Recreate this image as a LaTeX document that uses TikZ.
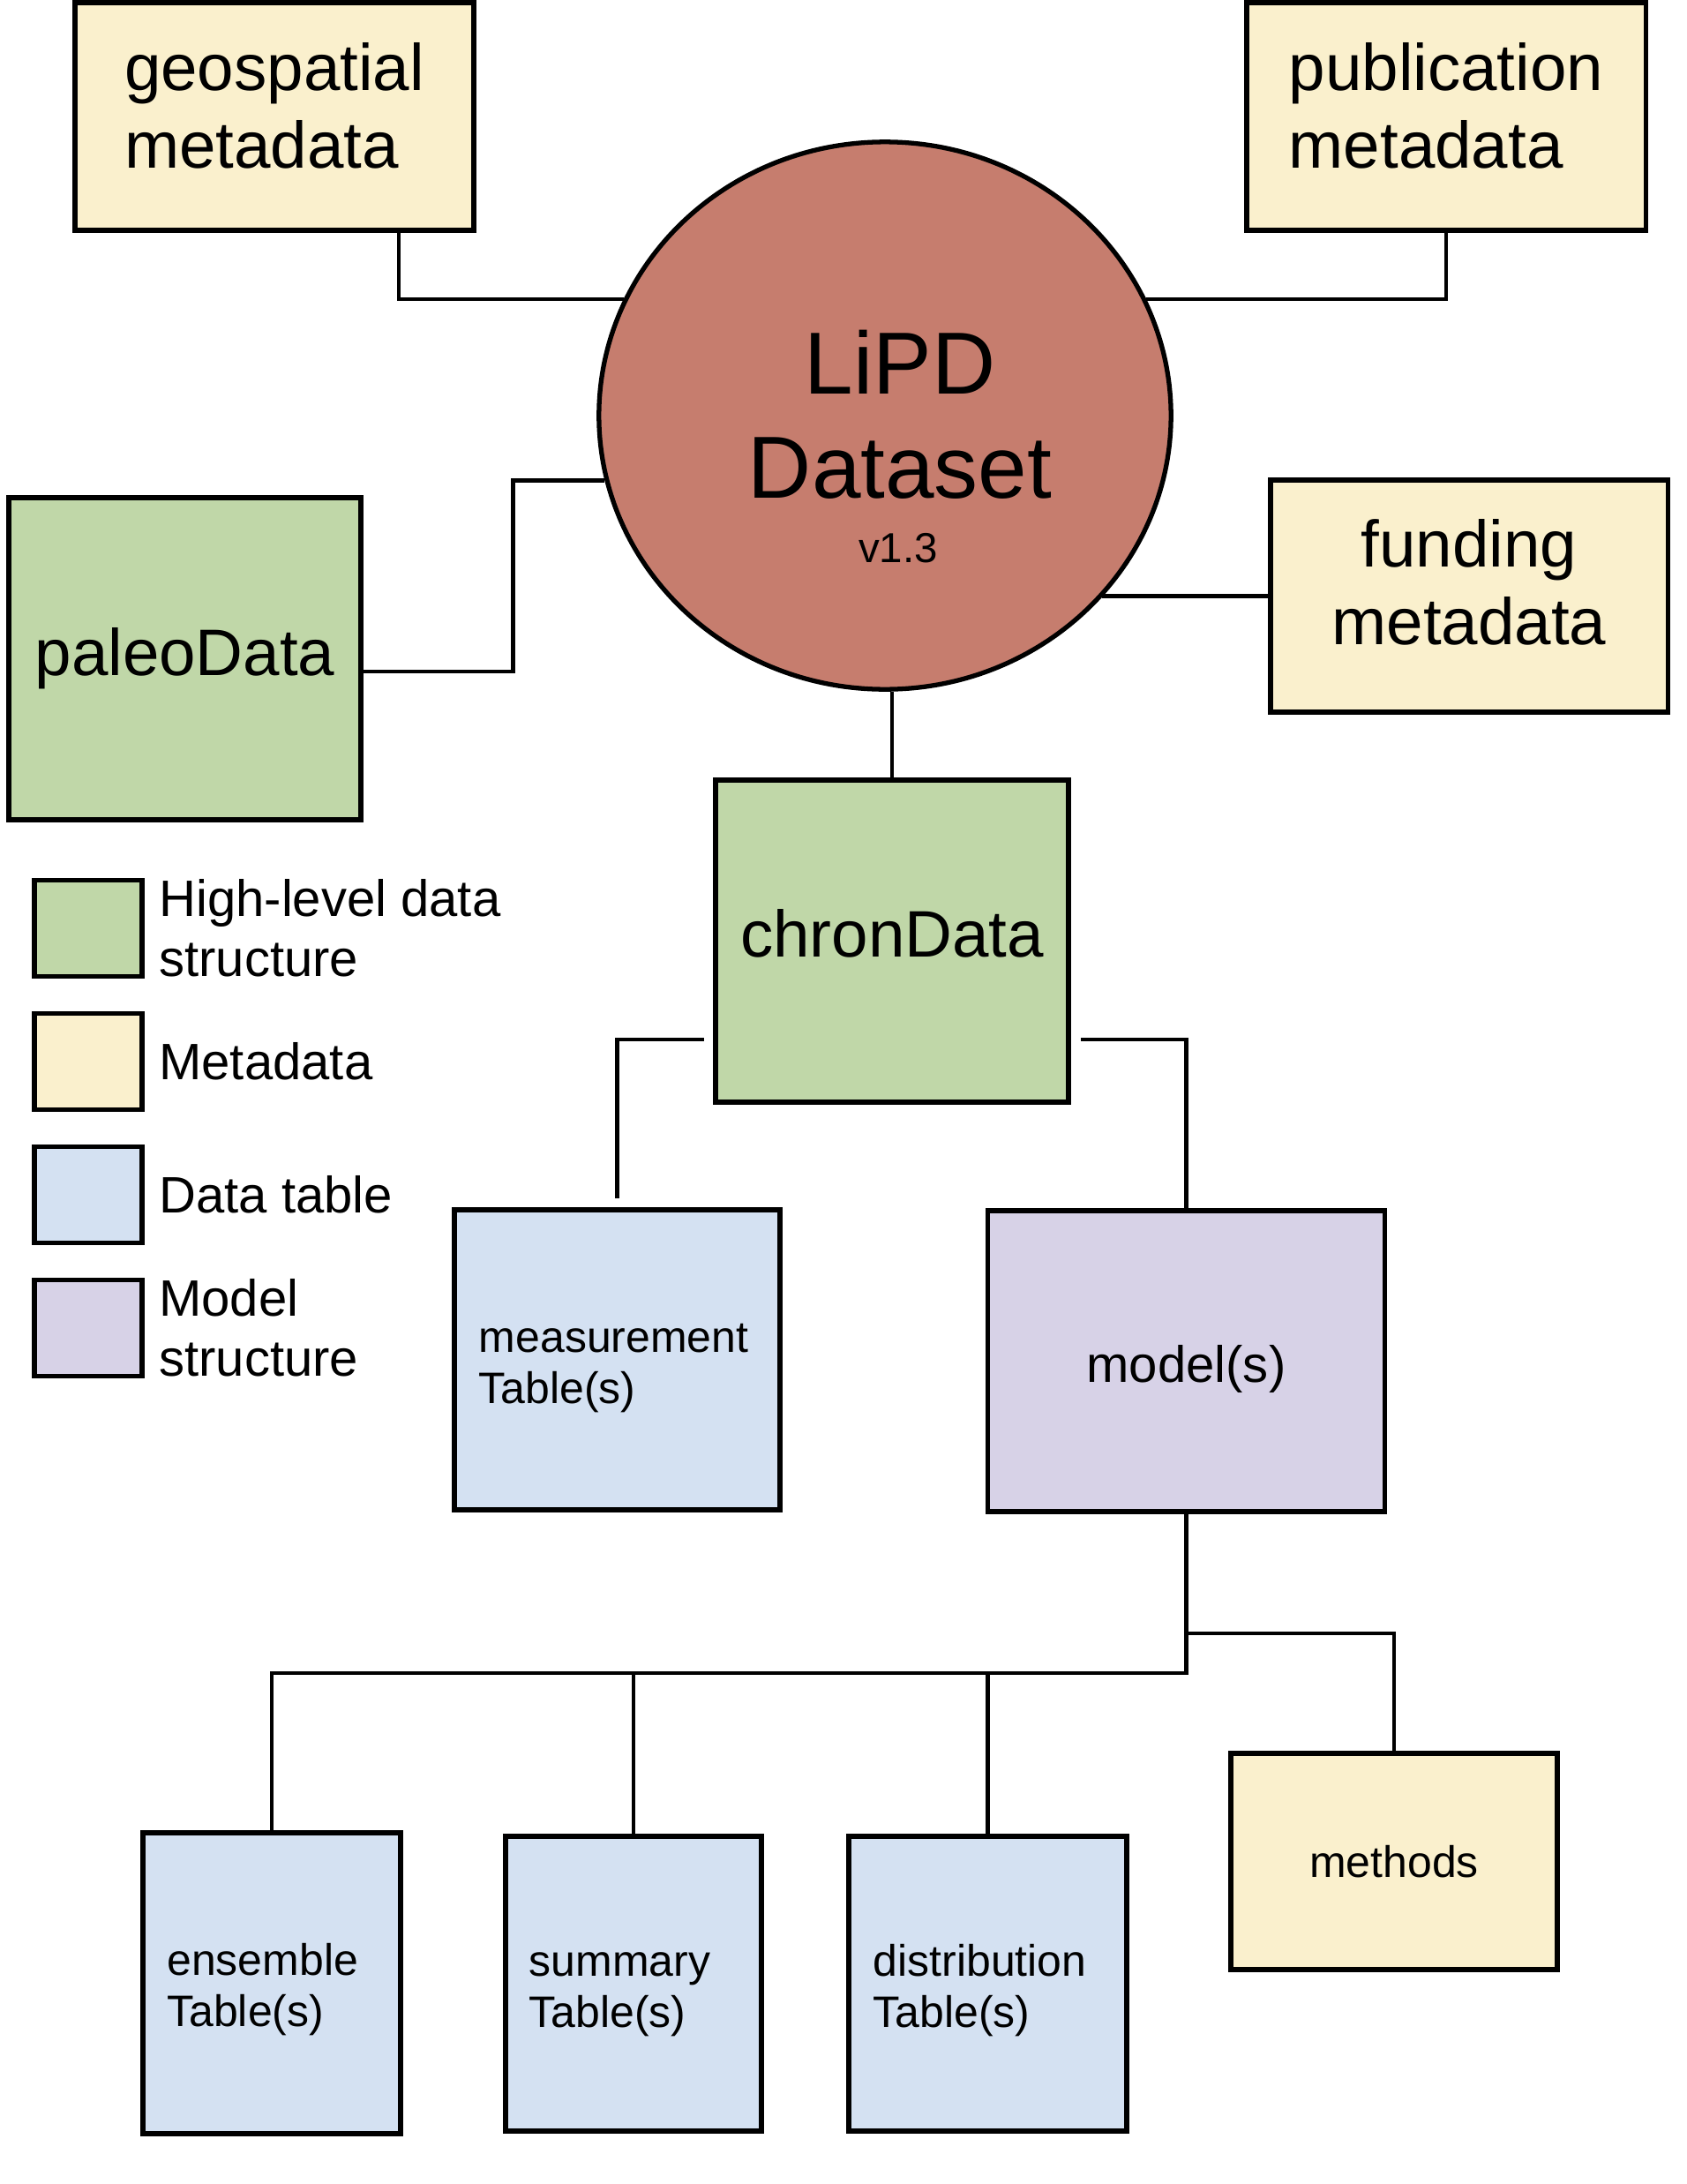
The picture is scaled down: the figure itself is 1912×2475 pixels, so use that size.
\documentclass[tikz,border=0pt]{standalone}
\usepackage{fontspec}
\setmainfont{Liberation Sans}
\usetikzlibrary{positioning,shapes.geometric}

\definecolor{hlgreen}{HTML}{C0D7A8}
\definecolor{metayellow}{HTML}{FAF0CD}
\definecolor{tableblue}{HTML}{D4E1F2}
\definecolor{modelpurple}{HTML}{D7D2E7}
\definecolor{lipdred}{HTML}{C67D6E}

\tikzset{
  plainbox/.style={draw, line width=1.5pt, inner sep=0pt},
  bigtext/.style={font=\fontsize{21.2}{25}\selectfont},
  midtext/.style={font=\fontsize{16.5}{19.3}\selectfont},
  smalltext/.style={font=\fontsize{14.2}{16.5}\selectfont},
  hilevel/.style={plainbox, fill=hlgreen},
  metabox/.style={plainbox, fill=metayellow},
  datatable/.style={plainbox, fill=tableblue, smalltext, align=left, text height=0.51cm},
  modelbox/.style={plainbox, fill=modelpurple},
  keybox/.style={minimum width=1.22cm, minimum height=1.09cm},
  keytext/.style={midtext, inner sep=0pt, align=left},
  link/.style={line width=1.35pt},
}

\begin{document}
\begin{tikzpicture}[x=0.01cm, y=-0.01cm]
  \useasboundingbox (0,0) rectangle (1912,2475);

  \node[ellipse, draw, line width=1.5pt, fill=lipdred, minimum width=6.48cm, minimum height=6.2cm, inner sep=0pt] (lipd) at (1003,471) {};
  \node[font=\fontsize{28.4}{33.6}\selectfont, align=center, inner sep=0pt] (lipdname) at (1020,470) {LiPD\\Dataset};
  \node[font=\fontsize{13.5}{16}\selectfont, anchor=base, inner sep=0pt] (lipdver) at (1018,637) {v1.3};

  \node[metabox, bigtext, align=left, text depth=0.25cm, minimum width=4.52cm, minimum height=2.58cm] (geo) at (311,132) {geospatial\\metadata};
  \node[metabox, bigtext, align=left, text depth=0.25cm, minimum width=4.52cm, minimum height=2.58cm] (pub) at (1639,132) {publication\\metadata};
  \node[metabox, bigtext, align=center, text depth=0.32cm, minimum width=4.5cm, minimum height=2.63cm] (fund) at (1665,675.5) {funding\\metadata};
  \node[hilevel, bigtext, minimum width=3.99cm, minimum height=3.65cm] (paleo) at (209.5,746.5) {paleoData};
  \node[hilevel, bigtext, text depth=0.19cm, minimum width=4cm, minimum height=3.65cm] (chron) at (1011,1066.5) {chronData};

  \node[datatable, text width=3.13cm, minimum width=3.69cm, minimum height=3.4cm] (meas) at (699.5,1541) {measurement\\Table(s)};
  \node[modelbox, midtext, text height=0.59cm, minimum width=4.5cm, minimum height=3.41cm] (model) at (1344.5,1542.5) {model(s)};

  \node[datatable, text width=2.37cm, minimum width=2.92cm, minimum height=3.41cm] (ens) at (308,2247.5) {ensemble\\Table(s)};
  \node[datatable, text width=2.36cm, minimum width=2.9cm, minimum height=3.34cm] (summ) at (718,2248) {summary\\Table(s)};
  \node[datatable, text width=2.59cm, minimum width=3.15cm, minimum height=3.34cm] (dist) at (1119.5,2248) {distribution\\Table(s)};
  \node[metabox, smalltext, minimum width=3.7cm, minimum height=2.45cm] (meth) at (1580,2109.5) {methods};

  \node[hilevel, keybox] (keyhigh) at (100,1052) {};
  \node[metabox, keybox] (keymeta) at (100,1203) {};
  \node[plainbox, fill=tableblue, keybox] (keytable) at (100,1354) {};
  \node[modelbox, keybox] (keymodel) at (100,1505) {};
  \node[keytext, right=0.16cm of keyhigh] (keyhightext) {High-level data\\structure};
  \node[keytext, right=0.16cm of keymeta] (keymetatext) {Metadata};
  \node[keytext, right=0.16cm of keytable] (keytabletext) {Data table};
  \node[keytext, right=0.16cm of keymodel] (keymodeltext) {Model\\structure};

  \coordinate (split) at (1344.5,1896);
  \coordinate (methsplit) at (1344.5,1851);

  \draw[link] ([xshift=1.41cm]geo.south) |- (lipd.156);
  \draw[link] (pub.south) |- (lipd.24.5);
  \draw[link] ([yshift=-0.145cm]paleo.east) -- ++(170,0) |- (lipd.193);
  \draw[link] (fund.west) -- (fund.west -| lipd.-40);
  \draw[link] (chron.north) -- (chron.north |- lipd.south);
  \draw[link, shorten <=0.1cm, shorten >=0.1cm] ([yshift=-1.115cm]chron.west) -| (meas.north);
  \draw[link, shorten <=0.11cm] ([yshift=-1.115cm]chron.east) -| (model.north);
  \draw[link] (model.south) -- (split) -| (ens.north);
  \draw[link] (split -| summ.north) -- (summ.north);
  \draw[link] (split -| dist.north) -- (dist.north);
  \draw[link] (methsplit) -| (meth.north);
\end{tikzpicture}
\end{document}
